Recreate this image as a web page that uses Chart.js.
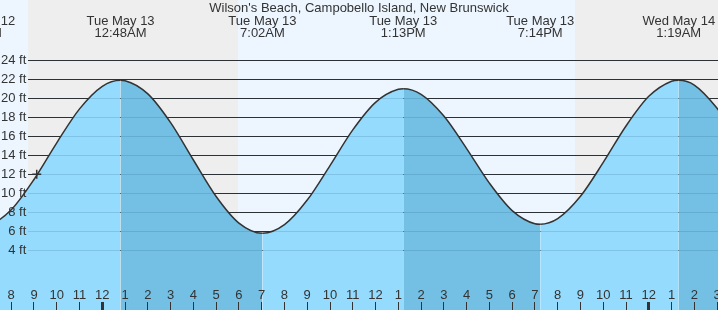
<!DOCTYPE html>
<html>
<head>
<meta charset="utf-8">
<script src="https://cdn.jsdelivr.net/npm/chart.js@4"></script>
<style>
  body { margin: 0; background: #fff; }
  canvas { display: block; }
</style>
</head>
<body>
<canvas id="tideChart" width="718" height="310"></canvas>
<script>
const chartTitle = "Wilson's Beach, Campobello Island, New Brunswick";

// time in hours from Tue May 13 00:00, height in ft
const tideTimes = [-5.4, -5, -4, -3, -2, -1, 0, 0.8, 1, 2, 3, 4, 5, 6, 7.033, 8, 9, 10, 11, 12, 13, 13.217,
  14, 15, 16, 17, 18, 19, 19.233, 20, 21, 22, 23, 24, 25, 25.317, 26, 27, 28];
const tideHeights = [6.4, 6.56, 8.27, 11.46, 15.32, 18.89, 21.27, 21.9, 21.86, 20.47, 17.44, 13.51, 9.67, 6.87, 5.8,
  6.7, 9.29, 12.92, 16.68, 19.58, 20.95, 21.0, 20.41, 18.13, 14.71, 11.07, 8.18, 6.8, 6.75, 7.34, 9.69, 13.25,
  17.09, 20.21, 21.8, 21.9, 21.4, 18.95, 15.4];

// high / low labels along the top
const extremeTimes = [-5.4, 0.8, 7.033, 13.217, 19.233, 25.317];
const extremeDays = ["Mon May 12", "Tue May 13", "Tue May 13", "Tue May 13", "Tue May 13", "Wed May 14"];
const extremeClock = ["6:36PM", "12:48AM", "7:02AM", "1:13PM", "7:14PM", "1:19AM"];

// night shading
const sunsetTimes = [-3.26, 20.76];
const sunriseTimes = [5.96, 30];

// current time marker
const nowTime = -2.88;
const nowHeight = 12.0;

const hourTicks = [];
for (let h = -4; h <= 27; h++) hourTicks.push(h);
const heightTicks = [4, 6, 8, 10, 12, 14, 16, 18, 20, 22, 24];

const dayColor = "rgb(237,246,255)";
const nightColor = "rgb(238,238,238)";
const risingFill = "rgb(149,219,253)";
const fallingFill = "rgb(115,192,228)";
const textColor = "#333";
const labelStrip = 28;

Chart.defaults.font.family = "'Liberation Sans', Arial, sans-serif";
Chart.defaults.font.size = 13;
Chart.defaults.color = textColor;

function noPadding(scale) {
  scale.paddingLeft = 0;
  scale.paddingRight = 0;
  scale.paddingTop = 0;
  scale.paddingBottom = 0;
}

function paintSky(chart, left, right) {
  const { ctx, chartArea, scales } = chart;
  const h = chartArea.bottom - chartArea.top;
  ctx.save();
  ctx.fillStyle = dayColor;
  ctx.fillRect(left, chartArea.top, right - left, h);
  ctx.fillStyle = nightColor;
  sunsetTimes.forEach((s, i) => {
    const x1 = Math.max(scales.x.getPixelForValue(s), left);
    const x2 = Math.min(scales.x.getPixelForValue(sunriseTimes[i]), right);
    if (x2 > x1) ctx.fillRect(x1, chartArea.top, x2 - x1, h);
  });
  ctx.restore();
}

const tidePlugin = {
  id: "tideDecor",
  beforeDraw(chart) {
    paintSky(chart, chart.chartArea.left, chart.chartArea.right);
  },
  beforeDatasetsDraw(chart) {
    // keep the label strip clear of grid lines
    paintSky(chart, chart.chartArea.left, chart.chartArea.left + labelStrip);
  },
  afterDatasetsDraw(chart) {
    const { ctx, chartArea, scales } = chart;
    ctx.save();
    ctx.strokeStyle = "rgba(0,40,80,0.13)";
    ctx.lineWidth = 1;
    heightTicks.forEach(v => {
      const p = Math.round(scales.y.getPixelForValue(v) - 0.5) + 0.5;
      ctx.beginPath();
      ctx.moveTo(chartArea.left + labelStrip, p);
      ctx.lineTo(chartArea.right, p);
      ctx.stroke();
    });
    ctx.restore();
  },
  afterDraw(chart) {
    const { ctx, chartArea, scales } = chart;
    ctx.save();
    ctx.fillStyle = textColor;
    ctx.font = "13px 'Liberation Sans', Arial, sans-serif";
    ctx.textAlign = "center";
    ctx.textBaseline = "alphabetic";
    ctx.fillText(chartTitle, (chartArea.left + chartArea.right) / 2, 12);
    extremeTimes.forEach((t, i) => {
      const px = scales.x.getPixelForValue(t);
      ctx.fillText(extremeDays[i], px, 25);
      ctx.fillText(extremeClock[i], px, 37);
    });
    ctx.restore();
  }
};

const ctx = document.getElementById("tideChart").getContext("2d");

const tideChart = new Chart(ctx, {
  type: "line",
  data: {
    datasets: [
      {
        data: [{ x: nowTime, y: nowHeight }],
        showLine: false,
        pointStyle: "cross",
        pointRadius: 4.5,
        pointBorderWidth: 1.5,
        pointBorderColor: textColor,
        order: 0
      },
      {
        data: tideTimes.map((t, i) => ({ x: t, y: tideHeights[i] })),
        borderColor: textColor,
        borderWidth: 1.5,
        pointRadius: 0,
        cubicInterpolationMode: "monotone",
        fill: "start",
        backgroundColor: risingFill,
        segment: {
          backgroundColor: c => (c.p1.parsed.y < c.p0.parsed.y ? fallingFill : risingFill)
        },
        order: 1
      }
    ]
  },
  options: {
    responsive: false,
    animation: false,
    devicePixelRatio: 1,
    layout: { padding: 0, autoPadding: false },
    plugins: {
      legend: { display: false },
      tooltip: { enabled: false },
      title: { display: false }
    },
    scales: {
      x: {
        type: "linear",
        position: "bottom",
        bounds: "data",
        min: -4.493,
        max: 27.04,
        afterBuildTicks: scale => {
          scale.ticks = hourTicks.map(v => ({ value: v }));
        },
        afterFit: scale => {
          scale.height = 0;
          noPadding(scale);
        },
        border: { display: false },
        grid: {
          z: 1,
          drawOnChartArea: false,
          drawTicks: true,
          tickLength: -8,
          tickColor: textColor,
          tickWidth: c => (c.tick && c.tick.value % 24 === 0 ? 3 : 1)
        },
        ticks: {
          z: 1,
          mirror: true,
          padding: 7,
          autoSkip: false,
          maxRotation: 0,
          color: textColor,
          callback: v => ((v % 12) + 12) % 12 || 12
        }
      },
      y: {
        type: "linear",
        position: "left",
        bounds: "data",
        min: -2.28,
        max: 30.35,
        afterBuildTicks: scale => {
          scale.ticks = heightTicks.map(v => ({ value: v }));
        },
        afterFit: scale => {
          scale.width = 0;
          noPadding(scale);
        },
        border: { display: false },
        grid: {
          color: textColor,
          lineWidth: 1,
          drawTicks: false
        },
        ticks: {
          z: 1,
          mirror: true,
          crossAlign: "far",
          padding: 1,
          color: textColor,
          callback: v => v + " ft"
        }
      }
    }
  },
  plugins: [tidePlugin]
});
</script>
</body>
</html>
